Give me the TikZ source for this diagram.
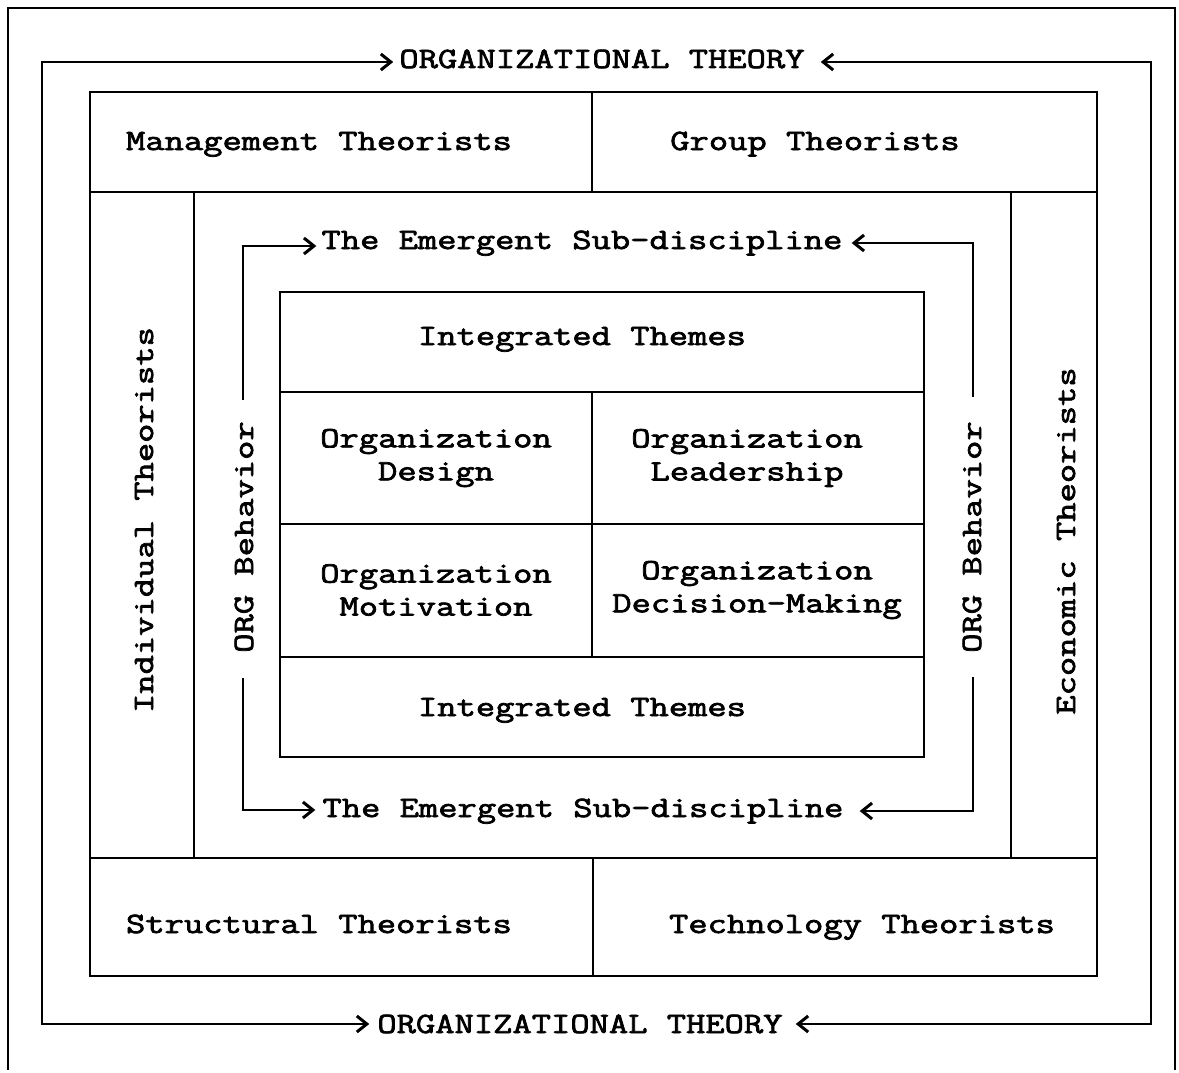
\documentclass[tikz,border=0pt]{standalone}
\usepackage{fontspec}
\newfontfamily\tw{Latin Modern Mono}[FakeStretch=1.27, FakeBold=2.5]
\usetikzlibrary{arrows.meta}

\begin{document}
\begin{tikzpicture}[x=1pt,y=-1pt,
  rule/.style={line width=2.6pt},
  barb/.tip={Straight Barb[length=10pt,width=16pt,line width=3pt]},
  flow/.style={rule, barb-barb},
  lab/.style={font=\fontsize{29.5}{33}\tw, inner sep=0pt, text height=18pt, text depth=0pt},
  cell/.style={font=\fontsize{29.5}{33}\tw, inner sep=0pt, align=center}]

\useasboundingbox (0,0) rectangle (1179,1073);
\fill[white] (0,0) rectangle (1179,1073);

% page frame
\draw[line width=2pt] (8,1070) -- (8,8) -- (1175,8) -- (1175,1070);

% outer ring of theorist bands
\draw[rule] (90,92) rectangle (1097,192);
\draw[rule] (592,92) -- (592,192);
\draw[rule] (90,192) rectangle (194,858);
\draw[rule] (1011,192) rectangle (1097,858);
\draw[rule] (194,858) -- (1011,858);
\draw[rule] (90,858) rectangle (1097,976);
\draw[rule] (593,858) -- (593,976);

% inner grid of themes
\draw[rule] (280,292) rectangle (924,757);
\draw[rule] (280,392) -- (924,392);
\draw[rule] (280,524) -- (924,524);
\draw[rule] (280,657) -- (924,657);
\draw[rule] (592,392) -- (592,657);

% labels
\node[lab] (topT) at (602,59) {ORGANIZATIONAL THEORY};
\node[lab] (botT) at (580,1024) {ORGANIZATIONAL THEORY};
\node[lab] (mgmt) at (319,141) {Management Theorists};
\node[lab] (group) at (815,141) {Group Theorists};
\node[lab] (struct) at (319,924) {Structural Theorists};
\node[lab] (tech) at (862,924) {Technology Theorists};
\node[lab, rotate=90] (indiv) at (144,520) {Individual Theorists};
\node[lab, rotate=90] (econ) at (1066,541) {Economic Theorists};
\node[lab, rotate=90] (obL) at (244,537) {ORG Behavior};
\node[lab, rotate=90] (obR) at (972,537) {ORG Behavior};
\node[lab] (topE) at (582,240) {The Emergent Sub-discipline};
\node[lab] (botE) at (583,808) {The Emergent Sub-discipline};
\node[lab] (intTop) at (582,336) {Integrated Themes};
\node[lab] (intBot) at (582,707) {Integrated Themes};
\node[cell] (design) at (436,458) {Organization\\Design};
\node[cell] (lead) at (747,458) {Organization\\Leadership};
\node[cell] (motiv) at (436,590) {Organization\\Motivation};
\node[cell] (decis) at (757,590) {Organization\\Decision-Making};

% outer loop corners
\coordinate (oTL) at (42,62);
\coordinate (oBL) at (42,1024);
\coordinate (oTR) at (1151,62);
\coordinate (oBR) at (1151,1024);
% inner loop corners and gap ends
\coordinate (iTL) at (243,246);
\coordinate (iBL) at (243,810);
\coordinate (iTR) at (973,243);
\coordinate (iBR) at (973,811);
\coordinate (gL1) at (243,400);
\coordinate (gL2) at (243,678);
\coordinate (gR1) at (973,397);
\coordinate (gR2) at (973,677);

% outer loop arrows
\draw[flow, shorten <=6pt, shorten >=8pt]
  (oTL -| topT.west) -- (oTL) -- (oBL) -- (oBL -| botT.west);
\draw[flow, shorten <=16pt, shorten >=13pt]
  (oTR -| topT.east) -- (oTR) -- (oBR) -- (oBR -| botT.east);

% inner loop arrows
\draw[rule, barb-, shorten <=5pt] (iTL -| topE.west) -- (iTL) -- (gL1);
\draw[rule, -barb, shorten >=7pt] (gL2) -- (iBL) -- (iBL -| botE.west);
\draw[rule, barb-, shorten <=9pt] (iTR -| topE.east) -- (iTR) -- (gR1);
\draw[rule, -barb, shorten >=16pt] (gR2) -- (iBR) -- (iBR -| botE.east);

\end{tikzpicture}
\end{document}
